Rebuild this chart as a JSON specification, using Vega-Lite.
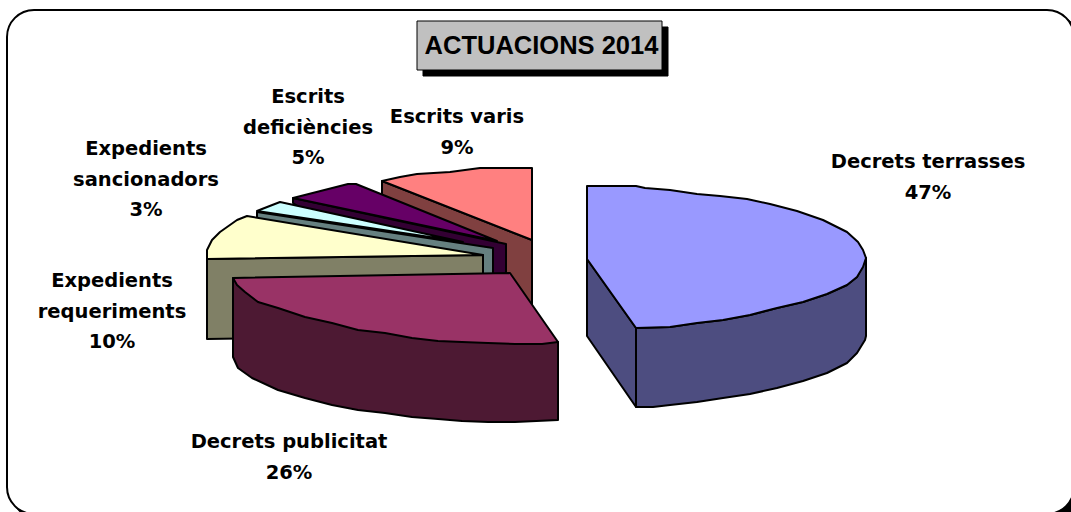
{"$schema":"https://vega.github.io/schema/vega-lite/v6.json","width":1071,"height":512,"padding":0,"autosize":{"type":"none"},"background":"white","config":{"view":{"stroke":null}},
"resolve":{"scale":{"fill":"independent"}},
"datasets":{
"frame":[{"x0":13,"x1":1080,"y0":16,"y1":520,"layer":"shadow"},{"x0":7,"x1":1074,"y0":10,"y1":514,"layer":"panel"}],
"titlebox":[{"x0":423,"x1":668,"y0":27,"y1":76,"layer":"shadow"},{"x0":417,"x1":662,"y0":21,"y1":70,"layer":"box"}],
"outlines":[
{"part":"varis side","seq":1,"x":382,"y":181},{"part":"varis side","seq":2,"x":532,"y":240},{"part":"varis side","seq":3,"x":532,"y":306},{"part":"varis side","seq":4,"x":450,"y":285},{"part":"varis side","seq":5,"x":382,"y":194},
{"part":"varis top","seq":1,"x":532,"y":168},{"part":"varis top","seq":2,"x":480,"y":168},{"part":"varis top","seq":3,"x":450,"y":172},{"part":"varis top","seq":4,"x":417,"y":174},{"part":"varis top","seq":5,"x":400,"y":177},{"part":"varis top","seq":6,"x":382,"y":181},{"part":"varis top","seq":7,"x":532,"y":240},
{"part":"deficiencies side","seq":1,"x":293,"y":198},{"part":"deficiencies side","seq":2,"x":506,"y":244},{"part":"deficiencies side","seq":3,"x":506,"y":274},{"part":"deficiencies side","seq":4,"x":400,"y":274},{"part":"deficiencies side","seq":5,"x":293,"y":203},
{"part":"deficiencies top","seq":1,"x":293,"y":198},{"part":"deficiencies top","seq":2,"x":348,"y":184},{"part":"deficiencies top","seq":3,"x":356,"y":184},{"part":"deficiencies top","seq":4,"x":497,"y":241},
{"part":"sancionadors side","seq":1,"x":257,"y":212},{"part":"sancionadors side","seq":2,"x":493,"y":248},{"part":"sancionadors side","seq":3,"x":493,"y":280},{"part":"sancionadors side","seq":4,"x":300,"y":270},{"part":"sancionadors side","seq":5,"x":257,"y":217},
{"part":"sancionadors top","seq":1,"x":257,"y":211},{"part":"sancionadors top","seq":2,"x":262,"y":209},{"part":"sancionadors top","seq":3,"x":280,"y":202},{"part":"sancionadors top","seq":4,"x":463,"y":242},
{"part":"requeriments side","seq":1,"x":207,"y":259},{"part":"requeriments side","seq":2,"x":483,"y":255},{"part":"requeriments side","seq":3,"x":483,"y":335},{"part":"requeriments side","seq":4,"x":207,"y":339},
{"part":"requeriments top","seq":1,"x":207,"y":259},{"part":"requeriments top","seq":2,"x":207,"y":250},{"part":"requeriments top","seq":3,"x":212,"y":240},{"part":"requeriments top","seq":4,"x":220,"y":232},{"part":"requeriments top","seq":5,"x":237,"y":220},{"part":"requeriments top","seq":6,"x":247,"y":216},{"part":"requeriments top","seq":7,"x":483,"y":255},
{"part":"publicitat side","seq":1,"x":233,"y":278},{"part":"publicitat side","seq":2,"x":233,"y":357},{"part":"publicitat side","seq":3,"x":238,"y":368},{"part":"publicitat side","seq":4,"x":252,"y":378},{"part":"publicitat side","seq":5,"x":278,"y":390},{"part":"publicitat side","seq":6,"x":305,"y":398},{"part":"publicitat side","seq":7,"x":332,"y":405},{"part":"publicitat side","seq":8,"x":358,"y":410},{"part":"publicitat side","seq":9,"x":385,"y":413},{"part":"publicitat side","seq":10,"x":412,"y":417},{"part":"publicitat side","seq":11,"x":438,"y":419},{"part":"publicitat side","seq":12,"x":462,"y":421},{"part":"publicitat side","seq":13,"x":488,"y":422},{"part":"publicitat side","seq":14,"x":515,"y":422},{"part":"publicitat side","seq":15,"x":558,"y":420},{"part":"publicitat side","seq":16,"x":558,"y":342},
{"part":"publicitat top","seq":1,"x":233,"y":278},{"part":"publicitat top","seq":2,"x":510,"y":273},{"part":"publicitat top","seq":3,"x":558,"y":342},{"part":"publicitat top","seq":4,"x":542,"y":344},{"part":"publicitat top","seq":5,"x":515,"y":344},{"part":"publicitat top","seq":6,"x":488,"y":343},{"part":"publicitat top","seq":7,"x":462,"y":342},{"part":"publicitat top","seq":8,"x":438,"y":341},{"part":"publicitat top","seq":9,"x":412,"y":338},{"part":"publicitat top","seq":10,"x":385,"y":333},{"part":"publicitat top","seq":11,"x":358,"y":330},{"part":"publicitat top","seq":12,"x":332,"y":323},{"part":"publicitat top","seq":13,"x":305,"y":317},{"part":"publicitat top","seq":14,"x":278,"y":308},{"part":"publicitat top","seq":15,"x":258,"y":302},{"part":"publicitat top","seq":16,"x":245,"y":292},{"part":"publicitat top","seq":17,"x":237,"y":285},
{"part":"terrasses cut","seq":1,"x":587,"y":259},{"part":"terrasses cut","seq":2,"x":636,"y":328},{"part":"terrasses cut","seq":3,"x":636,"y":407},{"part":"terrasses cut","seq":4,"x":587,"y":336},
{"part":"terrasses side","seq":1,"x":636,"y":328},{"part":"terrasses side","seq":2,"x":670,"y":327},{"part":"terrasses side","seq":3,"x":697,"y":323},{"part":"terrasses side","seq":4,"x":723,"y":320},{"part":"terrasses side","seq":5,"x":750,"y":315},{"part":"terrasses side","seq":6,"x":777,"y":308},{"part":"terrasses side","seq":7,"x":803,"y":302},{"part":"terrasses side","seq":8,"x":827,"y":294},{"part":"terrasses side","seq":9,"x":847,"y":285},{"part":"terrasses side","seq":10,"x":857,"y":277},{"part":"terrasses side","seq":11,"x":866,"y":258},{"part":"terrasses side","seq":12,"x":866,"y":336},{"part":"terrasses side","seq":13,"x":865,"y":340},{"part":"terrasses side","seq":14,"x":857,"y":353},{"part":"terrasses side","seq":15,"x":847,"y":363},{"part":"terrasses side","seq":16,"x":827,"y":373},{"part":"terrasses side","seq":17,"x":803,"y":381},{"part":"terrasses side","seq":18,"x":777,"y":388},{"part":"terrasses side","seq":19,"x":750,"y":394},{"part":"terrasses side","seq":20,"x":723,"y":398},{"part":"terrasses side","seq":21,"x":697,"y":402},{"part":"terrasses side","seq":22,"x":670,"y":405},{"part":"terrasses side","seq":23,"x":653,"y":407},{"part":"terrasses side","seq":24,"x":636,"y":407},
{"part":"terrasses top","seq":1,"x":587,"y":186},{"part":"terrasses top","seq":2,"x":636,"y":186},{"part":"terrasses top","seq":3,"x":645,"y":188},{"part":"terrasses top","seq":4,"x":670,"y":190},{"part":"terrasses top","seq":5,"x":697,"y":194},{"part":"terrasses top","seq":6,"x":720,"y":196},{"part":"terrasses top","seq":7,"x":747,"y":199},{"part":"terrasses top","seq":8,"x":770,"y":204},{"part":"terrasses top","seq":9,"x":797,"y":211},{"part":"terrasses top","seq":10,"x":823,"y":220},{"part":"terrasses top","seq":11,"x":847,"y":232},{"part":"terrasses top","seq":12,"x":858,"y":242},{"part":"terrasses top","seq":13,"x":863,"y":250},{"part":"terrasses top","seq":14,"x":866,"y":258},{"part":"terrasses top","seq":15,"x":863,"y":267},{"part":"terrasses top","seq":16,"x":857,"y":277},{"part":"terrasses top","seq":17,"x":847,"y":285},{"part":"terrasses top","seq":18,"x":827,"y":294},{"part":"terrasses top","seq":19,"x":803,"y":302},{"part":"terrasses top","seq":20,"x":777,"y":308},{"part":"terrasses top","seq":21,"x":750,"y":315},{"part":"terrasses top","seq":22,"x":723,"y":320},{"part":"terrasses top","seq":23,"x":697,"y":323},{"part":"terrasses top","seq":24,"x":670,"y":327},{"part":"terrasses top","seq":25,"x":636,"y":328},{"part":"terrasses top","seq":26,"x":587,"y":259}
],
"labels":[
{"slice":"Decrets terrasses","text":"Decrets terrasses\n47%","x":928,"y":162},
{"slice":"Escrits varis","text":"Escrits varis\n9%","x":457,"y":117},
{"slice":"Escrits deficiències","text":"Escrits\ndeficiències\n5%","x":308,"y":97},
{"slice":"Expedients sancionadors","text":"Expedients\nsancionadors\n3%","x":146,"y":149},
{"slice":"Expedients requeriments","text":"Expedients\nrequeriments\n10%","x":112,"y":281},
{"slice":"Decrets publicitat","text":"Decrets publicitat\n26%","x":289,"y":442}
],
"title":[{"text":"ACTUACIONS 2014","x":541.5,"y":45.5}]
},
"layer":[
{"data":{"name":"frame"},"mark":{"type":"rect","cornerRadius":27,"stroke":"black","strokeWidth":2},
"encoding":{"x":{"field":"x0","type":"quantitative","axis":null,"scale":{"domain":[0,1071],"nice":false,"zero":false}},"x2":{"field":"x1"},"y":{"field":"y0","type":"quantitative","axis":null,"scale":{"domain":[512,0],"nice":false,"zero":false}},"y2":{"field":"y1"},
"fill":{"field":"layer","type":"nominal","legend":null,"sort":null,"scale":{"domain":["shadow","panel"],"range":["#000000","#ffffff"]}}}},
{"data":{"name":"titlebox"},"mark":{"type":"rect","stroke":"black","strokeWidth":1},
"encoding":{"x":{"field":"x0","type":"quantitative"},"x2":{"field":"x1"},"y":{"field":"y0","type":"quantitative"},"y2":{"field":"y1"},
"fill":{"field":"layer","type":"nominal","legend":null,"sort":null,"scale":{"domain":["shadow","box"],"range":["#000000","#c0c0c0"]}}}},
{"data":{"name":"outlines"},"mark":{"type":"line","interpolate":"linear-closed","stroke":"black","strokeWidth":2,"strokeJoin":"round"},
"encoding":{"x":{"field":"x","type":"quantitative"},"y":{"field":"y","type":"quantitative"},"order":{"field":"seq","type":"quantitative"},"detail":{"field":"part","type":"nominal"},
"fill":{"field":"part","type":"nominal","legend":null,"sort":null,"scale":{"domain":["varis side","varis top","deficiencies side","deficiencies top","sancionadors side","sancionadors top","requeriments side","requeriments top","publicitat side","publicitat top","terrasses cut","terrasses side","terrasses top"],"range":["#804040","#ff8080","#330033","#660066","#668080","#ccffff","#808066","#ffffcc","#4d1933","#993366","#4d4d80","#4d4d80","#9999ff"]}}}},
{"data":{"name":"labels"},"mark":{"type":"text","font":"DejaVu Sans","fontWeight":"bold","fontSize":19.5,"lineBreak":"\n","lineHeight":30.5,"align":"center","baseline":"middle","color":"black"},
"encoding":{"x":{"field":"x","type":"quantitative"},"y":{"field":"y","type":"quantitative"},"text":{"field":"text","type":"nominal"}}},
{"data":{"name":"title"},"mark":{"type":"text","font":"Liberation Sans","fontWeight":"bold","fontSize":25.5,"align":"center","baseline":"middle","color":"black"},
"encoding":{"x":{"field":"x","type":"quantitative"},"y":{"field":"y","type":"quantitative"},"text":{"field":"text","type":"nominal"}}}
]}
